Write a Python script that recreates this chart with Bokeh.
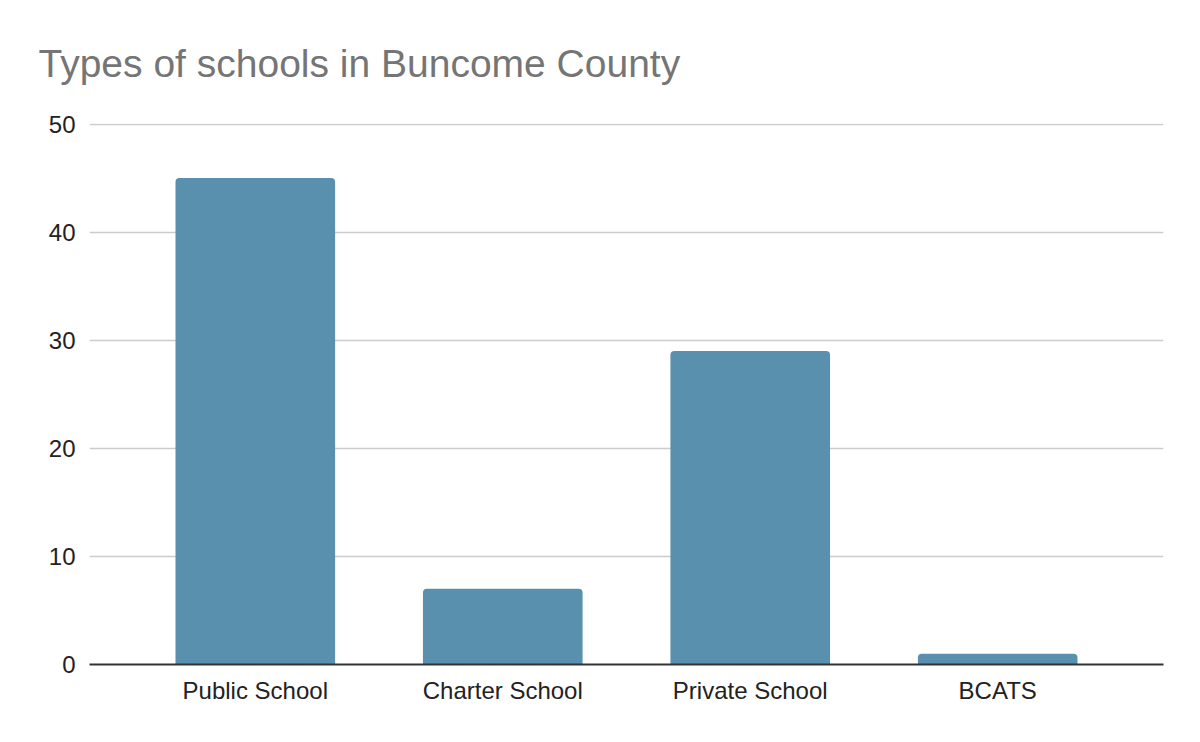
from bokeh.plotting import figure
from bokeh.models import FactorRange, Range1d, Title, ColumnDataSource
from bokeh.embed import file_html
from bokeh.resources import INLINE

categories = ["Public School", "Charter School", "Private School", "BCATS"]
counts = [45, 7, 29, 1]
y_ticks = [0, 10, 20, 30, 40, 50]

FONT = "Arial, 'Liberation Sans', sans-serif"

source = ColumnDataSource(data=dict(cat=categories, count=counts))

p = figure(
    width=1184, height=726,
    x_range=FactorRange(factors=categories, range_padding=0.17, range_padding_units="absolute"),
    y_range=Range1d(0, 50.05),
    output_backend="svg", toolbar_location=None,
    min_border_left=89, min_border_right=21, min_border_top=122, min_border_bottom=62,
    title=None,
)
p.outline_line_color = None
p.background_fill_color = "white"
p.border_fill_color = "white"

t = Title(text="Types of schools in Buncome County", text_font=FONT, text_font_size="39px",
          text_color="#757575", text_font_style="normal", align="left", offset=-51, standoff=78)
p.add_layout(t, "above")

p.vbar(x="cat", top="count", width=0.645, source=source, fill_color="#5990AE",
       line_color=None, border_radius=(4, 4, 0, 0))

p.xgrid.grid_line_color = None
p.ygrid.grid_line_color = "#CCCCCC"
p.ygrid.grid_line_width = 1.3
p.ygrid.ticker = y_ticks

p.yaxis.ticker = y_ticks
p.yaxis.axis_line_color = None
p.yaxis.major_tick_line_color = None
p.yaxis.minor_tick_line_color = None
p.yaxis.major_tick_out = 0
p.yaxis.major_tick_in = 0
p.yaxis.major_label_text_font = FONT
p.yaxis.major_label_text_font_size = "24px"
p.yaxis.major_label_text_color = "#222222"
p.yaxis.major_label_standoff = 14

p.xaxis.axis_line_color = "#333333"
p.xaxis.axis_line_width = 2
p.xaxis.major_tick_line_color = None
p.xaxis.minor_tick_line_color = None
p.xaxis.major_tick_out = 0
p.xaxis.major_tick_in = 0
p.xaxis.major_label_text_font = FONT
p.xaxis.major_label_text_font_size = "24px"
p.xaxis.major_label_text_color = "#222222"
p.xaxis.major_label_standoff = 12

open("out.html", "w").write(file_html(p, INLINE))
